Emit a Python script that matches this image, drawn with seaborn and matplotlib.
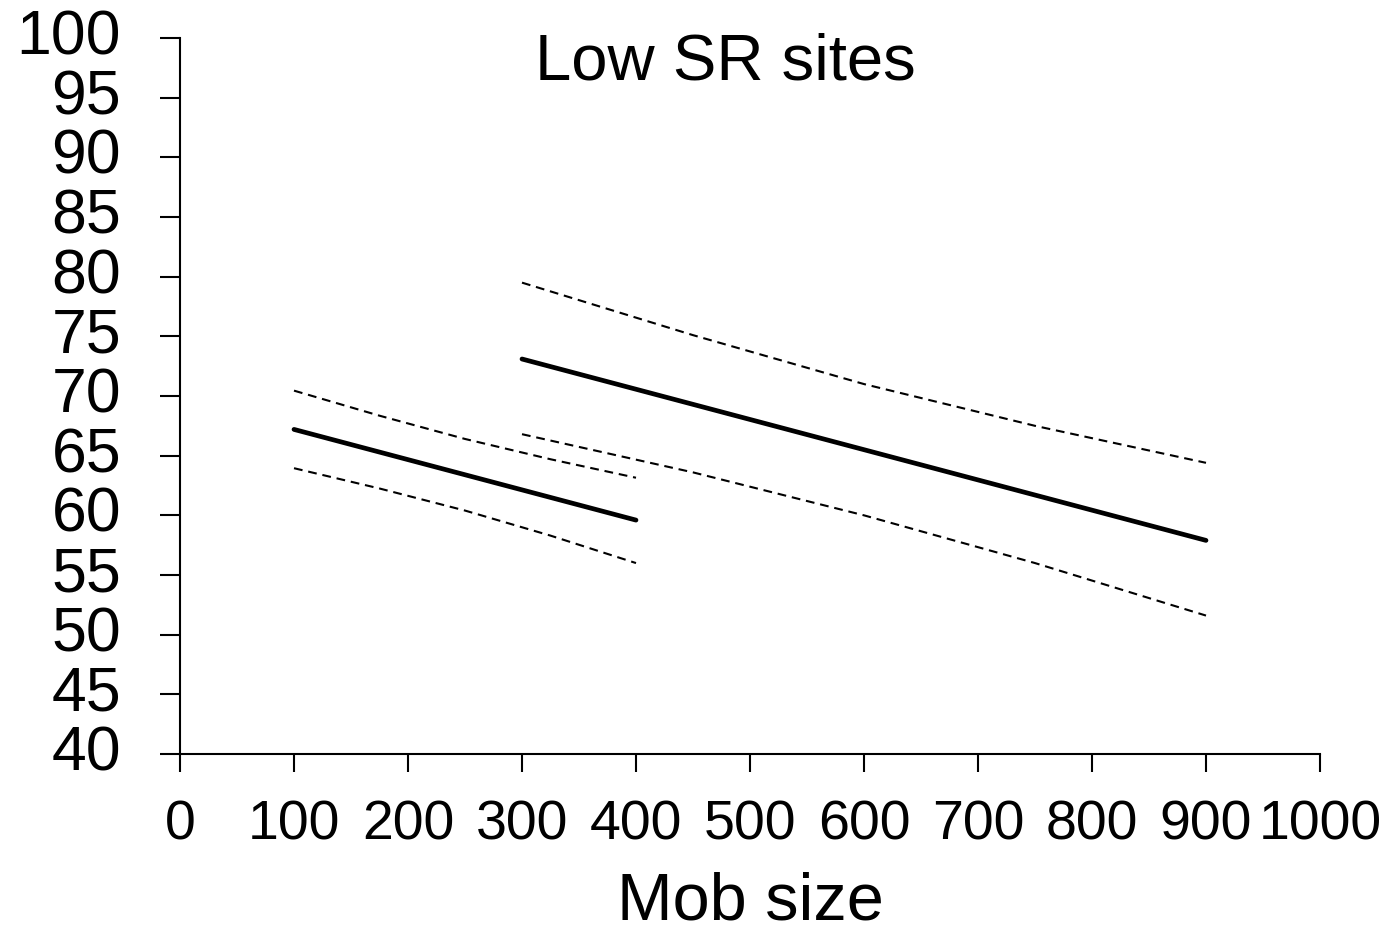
import numpy as np
import pandas as pd
import matplotlib
matplotlib.use("Agg")
import matplotlib.pyplot as plt
import seaborn as sns

# first mob-size group (100-400)
x_small = [100, 175, 250, 325, 400]
fit_small = [67.2, 65.3, 63.4, 61.5, 59.6]
upper_small = [70.45, 68.35, 66.4, 64.7, 63.15]
lower_small = [63.95, 62.25, 60.4, 58.3, 56.0]

# second mob-size group (300-900)
x_large = [300, 450, 600, 750, 900]
fit_large = [73.1, 69.3, 65.5, 61.7, 57.9]
upper_large = [79.5, 75.1, 71.0, 67.5, 64.4]
lower_large = [66.8, 63.6, 60.0, 56.0, 51.6]

x_ticks = list(range(0, 1001, 100))
y_ticks = list(range(40, 101, 5))

sns.set_style("ticks")
plt.rcParams['font.family'] = ['Liberation Sans', 'DejaVu Sans']
plt.rcParams['text.color'] = 'black'
plt.rcParams['axes.labelcolor'] = 'black'

fig = plt.figure(figsize=(13.93, 9.33), dpi=100)
ax = fig.add_axes([180 / 1393, 1 - 754 / 933, 1140 / 1393, 716 / 933])

for xs, fit, up, lo in [(x_small, fit_small, upper_small, lower_small),
                        (x_large, fit_large, upper_large, lower_large)]:
    sns.lineplot(x=xs, y=fit, ax=ax, color="black", linewidth=3.4,
                 solid_capstyle="round")
    sns.lineplot(x=xs, y=up, ax=ax, color="black", linewidth=1.5,
                 linestyle=(0, (4.2, 2.8)))
    sns.lineplot(x=xs, y=lo, ax=ax, color="black", linewidth=1.5,
                 linestyle=(0, (4.2, 2.8)))

ax.set_xlim(0, 1000)
ax.set_ylim(40, 100)
ax.set_xticks(x_ticks)
ax.set_yticks(y_ticks)
ax.set_xticklabels([str(v) for v in x_ticks], fontsize=40)
ax.set_yticklabels([str(v) for v in y_ticks], fontsize=45, va="center")

for side in ["top", "right"]:
    ax.spines[side].set_visible(False)
for side in ["left", "bottom"]:
    ax.spines[side].set_linewidth(1.5)
    ax.spines[side].set_color("black")

ax.tick_params(axis="x", direction="out", length=13, width=1.5, pad=20, colors="black")
ax.tick_params(axis="y", direction="out", length=14.4, width=1.5, pad=28, colors="black")

ax.set_xlabel("Mob size", fontsize=48, color="black")
ax.xaxis.set_label_coords(0.5, -0.231)
ax.xaxis.label.set_va("baseline")
ax.set_ylabel("")

ax.text(478, 96.5, "Low SR sites", fontsize=47, color="black",
        ha="center", va="baseline")

fig.savefig("out.png", dpi=100)
